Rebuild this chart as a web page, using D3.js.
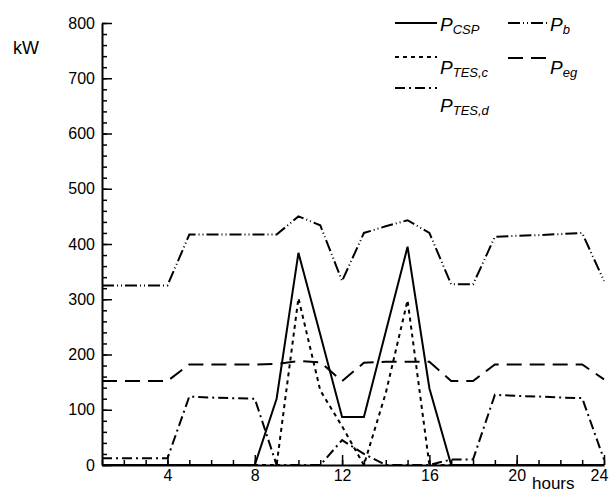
<!DOCTYPE html>
<html>
  <head>
    <meta charset="utf-8">
    <title>Power profiles</title>
<style>

  body {
    margin: 0;
    background-color: #fff;
  }

  #viz text {
    font-family: "Liberation Sans", Arial, sans-serif;
    fill: #000;
  }

  .domain { stroke-width: 2px; }
  .tick line { stroke-width: 1.5px; }

</style>
  </head>
  <body>

    <div id="viz"></div>

  <script src="https://cdn.jsdelivr.net/npm/d3@7"></script>

  <script>

    // hours on x, kW on y
    var hours = [1,2,3,4,5,6,7,8,9,10,11,12,13,14,15,16,17,18,19,20,21,22,23,24];
    var pCSP  = [0,0,0,0,0,0,0,0,120,384,236,87,87,241,395,139,0,0,0,0,0,0,0,0];
    var pTESc = [0,0,0,0,0,0,0,0,0,302,135,70,0,130,298,0,0,0,0,0,0,0,0,0];
    var pTESd = [12,12,12,12,124,122,121,120,0,0,0,45,20,0,0,0,10,10,127,125,124,122,121,10];
    var pB    = [325,325,325,325,417,417,417,417,417,450,434,333,420,432,443,420,327,327,413,415,416,418,420,333];
    var pEg   = [152,152,152,152,182,182,182,182,183,188,186,152,185,187,187,187,152,152,182,182,182,182,182,155];

    var xTicks = [4, 8, 12, 16, 20, 24];
    var yTicks = [0, 100, 200, 300, 400, 500, 600, 700, 800];

    var series = [
      { name: "P", sub: "CSP",   values: pCSP,  dash: null },
      { name: "P", sub: "TES,c", values: pTESc, dash: "4,4" },
      { name: "P", sub: "TES,d", values: pTESd, dash: "10,4,2,4" },
      { name: "P", sub: "b",     values: pB,    dash: "12,3,1,3,1,3" },
      { name: "P", sub: "eg",    values: pEg,   dash: "15,8" }
    ];

    var width = 613, height = 492;

    var x = d3.scaleLinear()
        .domain([1, 24])
        .range([102, 604]);

    var y = d3.scaleLinear()
        .domain([0, 800])
        .range([465, 23]);

    var svg = d3.select("#viz").append("svg")
        .attr("width", width)
        .attr("height", height);

    // minor ticks
    svg.append("g")
        .attr("transform", "translate(0," + y(0) + ")")
        .call(d3.axisBottom(x).tickValues(hours).tickSizeInner(-5).tickSizeOuter(0).tickFormat(""))
        .call(function(g) { g.select(".domain").remove(); });

    svg.append("g")
        .attr("transform", "translate(" + x(1) + ",0)")
        .call(d3.axisLeft(y).tickValues(d3.range(0, 801, 20)).tickSizeInner(-5).tickSizeOuter(0).tickFormat(""))
        .call(function(g) { g.select(".domain").remove(); });

    // major ticks + labels
    svg.append("g")
        .attr("transform", "translate(0," + y(0) + ")")
        .call(d3.axisBottom(x).tickValues(xTicks).tickSizeInner(-10).tickSizeOuter(0).tickPadding(5))
        .call(function(g) {
          g.selectAll("text").attr("font-size", 16).attr("font-family", null);
          g.selectAll(".tick:last-of-type text").attr("dx", -5);
        });

    svg.append("g")
        .attr("transform", "translate(" + x(1) + ",0)")
        .call(d3.axisLeft(y).tickValues(yTicks).tickSizeInner(-10).tickSizeOuter(0).tickPadding(7))
        .call(function(g) {
          g.selectAll("text").attr("font-size", 16).attr("font-family", null);
        });

    var line = d3.line()
        .x(function(d, i) { return x(hours[i]); })
        .y(function(d) { return y(d); });

    svg.selectAll(".series")
        .data(series)
      .enter().append("path")
        .attr("class", "series")
        .attr("d", function(d) { return line(d.values); })
        .attr("fill", "none")
        .attr("stroke", "#000")
        .attr("stroke-width", 2)
        .attr("stroke-dasharray", function(d) { return d.dash; });

    svg.append("text")
        .attr("x", 13)
        .attr("y", 54)
        .attr("font-size", 18)
        .text("kW");

    svg.append("text")
        .attr("x", 532)
        .attr("y", 489)
        .attr("font-size", 17)
        .text("hours");

    // legend, two columns like the original
    var legendPos = [
      { lx: 395, ly: 23, tx: 440, ty: 31 },
      { lx: 395, ly: 57, tx: 440, ty: 74 },
      { lx: 395, ly: 88, tx: 440, ty: 112 },
      { lx: 508, ly: 23, tx: 550, ty: 31 },
      { lx: 508, ly: 58, tx: 550, ty: 74 }
    ];

    var legend = svg.selectAll(".legend")
        .data(series)
      .enter().append("g")
        .attr("class", "legend");

    legend.append("line")
        .attr("x1", function(d, i) { return legendPos[i].lx; })
        .attr("x2", function(d, i) { return legendPos[i].lx + 42; })
        .attr("y1", function(d, i) { return legendPos[i].ly; })
        .attr("y2", function(d, i) { return legendPos[i].ly; })
        .attr("stroke", "#000")
        .attr("stroke-width", 2)
        .attr("stroke-dasharray", function(d) { return d.dash; });

    var label = legend.append("text")
        .attr("x", function(d, i) { return legendPos[i].tx; })
        .attr("y", function(d, i) { return legendPos[i].ty; })
        .attr("font-style", "italic")
        .attr("font-size", 19);

    label.append("tspan").text(function(d) { return d.name; });
    label.append("tspan")
        .attr("font-size", 13)
        .attr("dy", 3)
        .text(function(d) { return d.sub; });

  </script>
  </body>
</html>
